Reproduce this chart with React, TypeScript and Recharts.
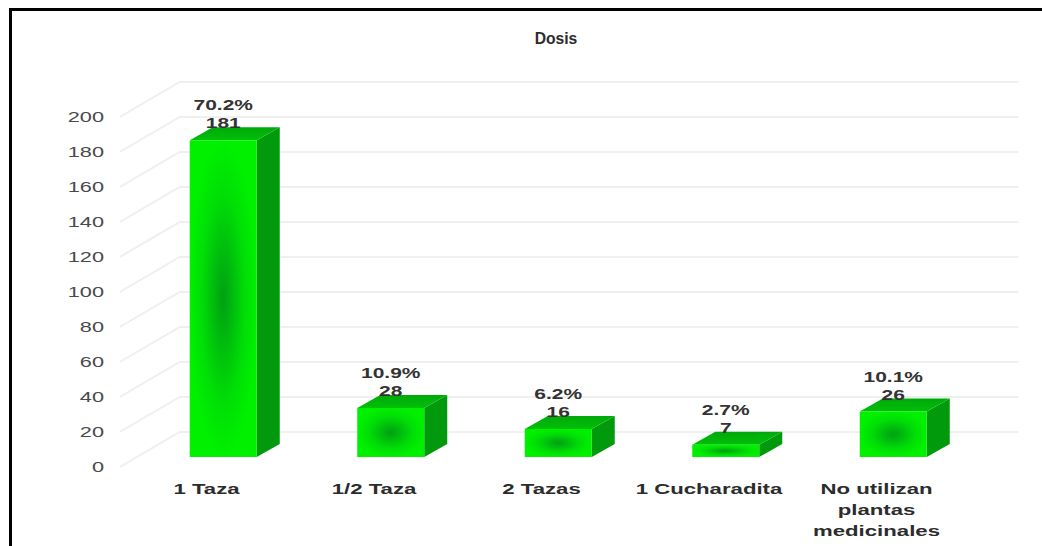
import React from "react";
import { BarChart, Bar, XAxis, YAxis, CartesianGrid, LabelList } from "recharts";

// Number of people per dose of medicinal plant preparation
const categories = ["1 Taza", "1/2 Taza", "2 Tazas", "1 Cucharadita", "No utilizan plantas medicinales"];
const counts = [181, 28, 16, 7, 26];
const shares = ["70.2%", "10.9%", "6.2%", "2.7%", "10.1%"];
const yTicks = [0, 20, 40, 60, 80, 100, 120, 140, 160, 180, 200];
const wrappedLabels: Record<string, string[]> = {
  "No utilizan plantas medicinales": ["No utilizan", "plantas", "medicinales"],
};

const rows = categories.map((name, i) => ({ name, count: counts[i], share: shares[i] }));

const FONT = "'Liberation Sans', Arial, sans-serif";
const DEPTH_X = 23;
const DEPTH_Y = 13;

// Front, side and top faces of one extruded bar
function Bar3D(props: any) {
  const { x, y, width, height } = props;
  const r = x + width;
  const b = y + height;
  return (
    <g>
      <polygon points={`${r},${y} ${r + DEPTH_X},${y - DEPTH_Y} ${r + DEPTH_X},${b - DEPTH_Y} ${r},${b}`} fill="#009a0c" />
      <polygon points={`${x},${y} ${x + DEPTH_X},${y - DEPTH_Y} ${r + DEPTH_X},${y - DEPTH_Y} ${r},${y}`} fill="url(#barTop)" />
      <rect x={x} y={y} width={width} height={height} fill="url(#barFront)" />
    </g>
  );
}

// Wall line for one tick: a diagonal along the side wall, then flat along the back wall
function WallLine(props: any) {
  const { x1, x2, y1 } = props;
  return (
    <polyline
      points={`${x1 - 20},${y1 + 10} ${x1 + 40},${y1 - 25} ${x2 + 41},${y1 - 25}`}
      fill="none"
      stroke="#efefef"
      strokeWidth={2}
    />
  );
}

function YTick(props: any) {
  const { y, payload } = props;
  return (
    <text
      transform={`translate(104 ${y + 15}) scale(1.45 1)`}
      textAnchor="end"
      fontFamily={FONT}
      fontSize={15}
      fill="#4a4a4a"
    >
      {payload.value}
    </text>
  );
}

function XTick(props: any) {
  const { x, y, payload } = props;
  const lines = wrappedLabels[payload.value] ?? [payload.value];
  return (
    <g>
      {lines.map((line: string, i: number) => (
        <text
          key={line}
          transform={`translate(${x - 17} ${y + 29 + i * 21}) scale(1.53 1)`}
          textAnchor="middle"
          fontFamily={FONT}
          fontSize={14.5}
          fontWeight={700}
          fill="#2c2c2c"
        >
          {line}
        </text>
      ))}
    </g>
  );
}

// Share above, count below, both stacked over the bar's front edge
function BarValue(props: any) {
  const { x, y, width, index } = props;
  const cx = x + width / 2;
  const style = { fontFamily: FONT, fontSize: 15, fontWeight: 700, fill: "#333333" };
  return (
    <g>
      <text transform={`translate(${cx} ${y - 30}) scale(1.4 1)`} textAnchor="middle" {...style}>
        {shares[index]}
      </text>
      <text transform={`translate(${cx} ${y - 12}) scale(1.4 1)`} textAnchor="middle" {...style}>
        {counts[index]}
      </text>
    </g>
  );
}

export default function App() {
  return (
    <div style={{ position: "absolute", left: 0, top: 0, width: 1042, height: 546, overflow: "hidden", background: "#fff" }}>
      <div style={{ position: "absolute", left: 9, top: 8, width: 1100, height: 600, border: "3px solid #000" }} />
      <div style={{ position: "absolute", left: 0, top: 0 }}>
        <BarChart
          width={1042}
          height={546}
          data={rows}
          margin={{ top: 107, right: 64.75, bottom: 0, left: 39.75 }}
          barSize={67}
        >
          <defs>
            <radialGradient id="barFront" cx="0.5" cy="0.5" r="0.5">
              <stop offset="0" stopColor="#00a012" />
              <stop offset="0.65" stopColor="#00de06" />
              <stop offset="1" stopColor="#00f000" />
            </radialGradient>
            <linearGradient id="barTop" x1="0" y1="0" x2="0" y2="1">
              <stop offset="0" stopColor="#00a80a" />
              <stop offset="1" stopColor="#00c008" />
            </linearGradient>
          </defs>
          <text transform="translate(556 44) scale(0.98 1)" textAnchor="middle" fontFamily={FONT} fontSize={16} fontWeight={700} fill="#2c2c2c">
            Dosis
          </text>
          <CartesianGrid vertical={false} horizontal={WallLine as any} />
          <XAxis dataKey="name" axisLine={false} tickLine={false} interval={0} height={89} tick={XTick as any} />
          <YAxis domain={[0, 200]} ticks={yTicks} width={100} axisLine={false} tickLine={false} tick={YTick as any} />
          <Bar dataKey="count" shape={Bar3D as any} isAnimationActive={false}>
            <LabelList dataKey="count" content={BarValue as any} />
          </Bar>
        </BarChart>
      </div>
    </div>
  );
}
